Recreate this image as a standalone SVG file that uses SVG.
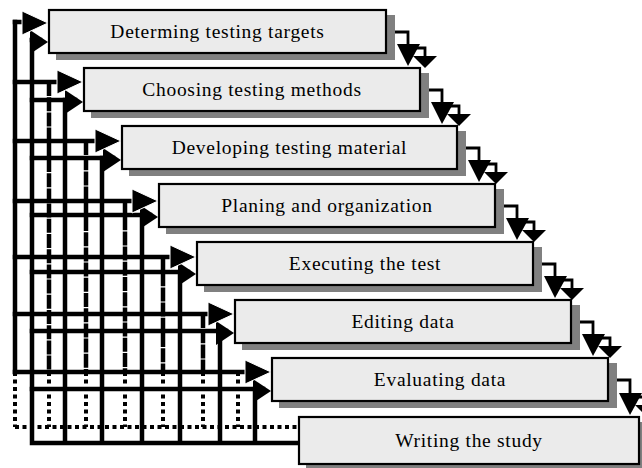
<svg xmlns="http://www.w3.org/2000/svg" width="642" height="468" viewBox="0 0 642 468">
  <style>
    .ln { fill: none; stroke: #000; stroke-width: 4.5; stroke-linecap: square; }
    .dash { fill: none; stroke: #000; stroke-width: 4.5; stroke-dasharray: 14 1.2; }
    .dot { fill: none; stroke: #000; stroke-width: 4; stroke-dasharray: 4 3.5; }
    .step { fill: none; stroke: #000; stroke-width: 2.8; stroke-linecap: square; }
    .ah { fill: #000; }
    .ahw { fill: #000; stroke: #fff; stroke-width: 1; }
    .box { fill: #ebebeb; stroke: #000; stroke-width: 2.2; }
    .shadow { fill: #808080; }
    .lbl { font-family: "Liberation Serif", "Times New Roman", serif; font-size: 19.5px; letter-spacing: 0.7px; fill: #000; text-anchor: middle; }
  </style>

  <g id="connectors">
    <!-- feedback buses on the left: dotted lower parts and long-dash upper parts -->
    <path class="dot" d="M15,372 V427 M49,372 V427 M86,372 V427 M125,372 V427 M163,372 V427 M203,372 V427 M238,372 V427 M15,427 H298"/>
    <path class="dash" d="M49,82 V372 M86,141 V372 M125,201 V372 M163,257 V372 M203,314 V372"/>
    <!-- solid buses -->
    <path class="ln" d="M15,22 V372 M32,40 V443 M65,100 V443 M102,158 V443 M142,215 V443 M180,272 V443 M220,331 V443 M255,389 V443 M32,443 H298"/>
    <!-- horizontal feeds into each step -->
    <path class="ln" d="M15,22 H28 M32,40 H40
                        M15,82 H62 M32,100 H75
                        M15,141 H100 M32,158 H113
                        M15,201 H137 M32,215 H150
                        M15,257 H175 M32,272 H188
                        M15,314 H213 M32,331 H226
                        M15,372 H250 M32,389 H263"/>
    <!-- arrowheads entering each step (lower first, upper on top) -->
    <polygon class="ah" points="30,30 48,42 30,54"/>
    <polygon class="ahw" points="22,11 48,23 22,35"/>
    <polygon class="ah" points="65,90 83,102 65,114"/>
    <polygon class="ahw" points="57,70 83,82 57,94"/>
    <polygon class="ah" points="103,148 121,160 103,172"/>
    <polygon class="ahw" points="95,129 121,141 95,153"/>
    <polygon class="ah" points="140,205 158,217 140,229"/>
    <polygon class="ahw" points="132,189 158,201 132,213"/>
    <polygon class="ah" points="178,262 196,274 178,286"/>
    <polygon class="ahw" points="170,245 196,257 170,269"/>
    <polygon class="ah" points="216,321 234,333 216,345"/>
    <polygon class="ahw" points="208,302 234,314 208,326"/>
    <polygon class="ah" points="253,379 271,391 253,403"/>
    <polygon class="ahw" points="245,360 271,372 245,384"/>

    <!-- stepped arrows on the right, from each step down to the next -->
    <path class="step" d="M396,32 H408 V44 M408,48 H425 V56"/>
    <polygon class="ah" points="397,44 420,44 408,66"/>
    <polygon class="ah" points="413,56 437,56 425,68"/>
    <path class="step" d="M430,90 H442 V102 M442,106 H459 V114"/>
    <polygon class="ah" points="431,102 454,102 442,124"/>
    <polygon class="ah" points="447,114 471,114 459,126"/>
    <path class="step" d="M467,148 H479 V160 M479,164 H496 V172"/>
    <polygon class="ah" points="468,160 491,160 479,182"/>
    <polygon class="ah" points="484,172 508,172 496,184"/>
    <path class="step" d="M505,206 H517 V218 M517,222 H534 V230"/>
    <polygon class="ah" points="506,218 529,218 517,240"/>
    <polygon class="ah" points="522,230 546,230 534,242"/>
    <path class="step" d="M543,264 H555 V276 M555,280 H572 V288"/>
    <polygon class="ah" points="544,276 567,276 555,298"/>
    <polygon class="ah" points="560,288 584,288 572,300"/>
    <path class="step" d="M581,322 H593 V334 M593,338 H610 V346"/>
    <polygon class="ah" points="582,334 605,334 593,356"/>
    <polygon class="ah" points="598,346 622,346 610,358"/>
    <path class="step" d="M618,380 H630 V393 M630,397 H647 V405"/>
    <polygon class="ah" points="619,393 642,393 630,415"/>
    <polygon class="ah" points="635,405 659,405 647,417"/>
  </g>

  <g id="step1">
    <rect class="shadow" x="56" y="15" width="339" height="45"/>
    <rect class="box" x="49" y="10" width="337" height="43"/>
    <text class="lbl" x="217.5" y="38">Determing testing targets</text>
  </g>
  <g id="step2">
    <rect class="shadow" x="91" y="73" width="338" height="45"/>
    <rect class="box" x="84" y="68" width="336" height="43"/>
    <text class="lbl" x="252" y="96">Choosing testing methods</text>
  </g>
  <g id="step3">
    <rect class="shadow" x="129" y="131" width="337" height="45"/>
    <rect class="box" x="122" y="126" width="335" height="43"/>
    <text class="lbl" x="289.5" y="154">Developing testing material</text>
  </g>
  <g id="step4">
    <rect class="shadow" x="166" y="189" width="338" height="45"/>
    <rect class="box" x="159" y="184" width="336" height="43"/>
    <text class="lbl" x="327" y="212">Planing and organization</text>
  </g>
  <g id="step5">
    <rect class="shadow" x="204" y="247" width="338" height="45"/>
    <rect class="box" x="197" y="242" width="336" height="43"/>
    <text class="lbl" x="365" y="270">Executing the test</text>
  </g>
  <g id="step6">
    <rect class="shadow" x="242" y="305" width="338" height="45"/>
    <rect class="box" x="235" y="300" width="336" height="43"/>
    <text class="lbl" x="403" y="328">Editing data</text>
  </g>
  <g id="step7">
    <rect class="shadow" x="279" y="363" width="338" height="45"/>
    <rect class="box" x="272" y="358" width="336" height="43"/>
    <text class="lbl" x="440" y="386">Evaluating data</text>
  </g>
  <g id="step8">
    <rect class="shadow" x="306" y="422" width="342" height="49"/>
    <rect class="box" x="299" y="417" width="340" height="47"/>
    <text class="lbl" x="469" y="447">Writing the study</text>
  </g>
</svg>
